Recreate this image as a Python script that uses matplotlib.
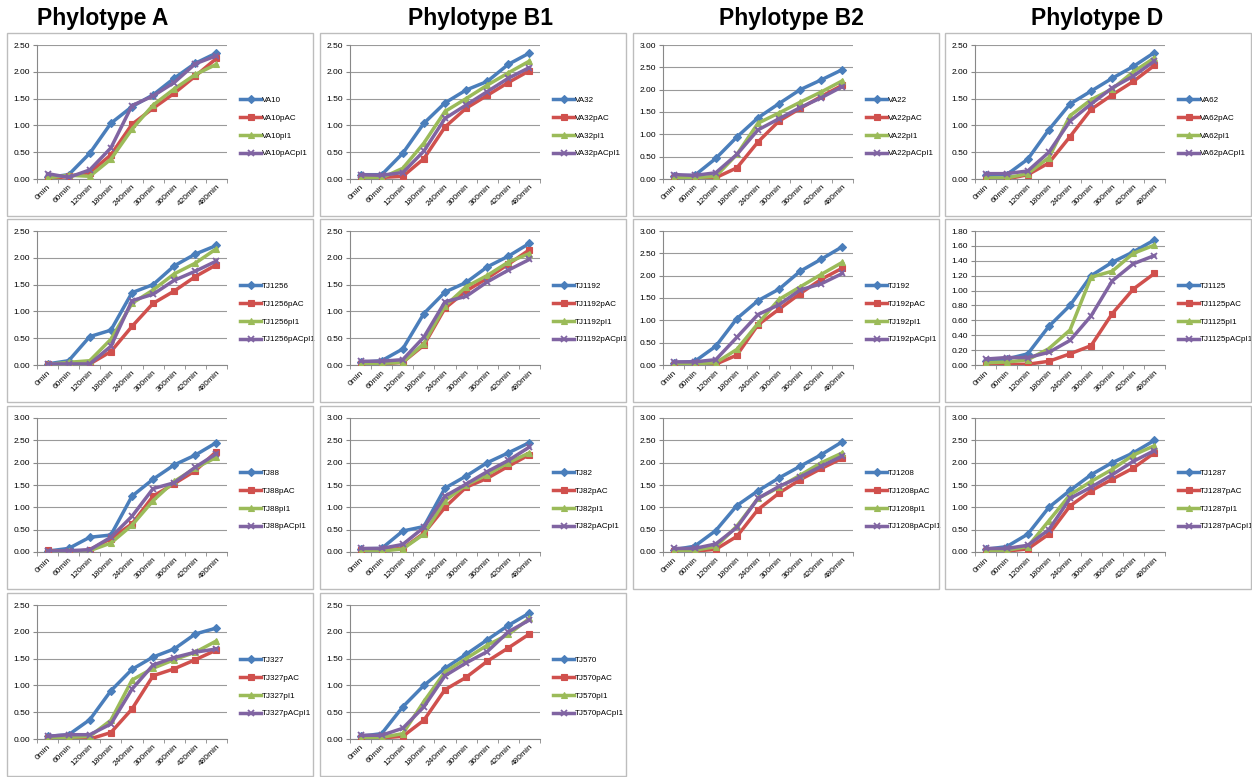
import matplotlib
matplotlib.use("Agg")
import matplotlib.pyplot as plt
from matplotlib.patches import Rectangle

plt.rcParams['font.family'] = ['Liberation Sans', 'DejaVu Sans']

times = ['0min', '60min', '120min', '180min', '240min', '300min', '360min', '420min', '480min']
phylotypes = ['Phylotype A', 'Phylotype B1', 'Phylotype B2', 'Phylotype D']

# --- Phylotype A ---
va10 = [0.03, 0.08, 0.48, 1.04, 1.35, 1.57, 1.88, 2.16, 2.35]
va10_pac = [0.00, 0.05, 0.12, 0.45, 1.02, 1.32, 1.60, 1.92, 2.25]
va10_pi1 = [0.02, 0.07, 0.05, 0.37, 0.93, 1.38, 1.68, 1.95, 2.14]
va10_pacpi1 = [0.10, 0.03, 0.17, 0.58, 1.37, 1.55, 1.80, 2.15, 2.30]

tj1256 = [0.02, 0.08, 0.53, 0.65, 1.35, 1.50, 1.85, 2.07, 2.23]
tj1256_pac = [0.01, 0.00, 0.02, 0.25, 0.72, 1.15, 1.38, 1.65, 1.87]
tj1256_pi1 = [0.01, 0.05, 0.08, 0.48, 1.15, 1.40, 1.70, 1.90, 2.17]
tj1256_pacpi1 = [0.02, 0.02, 0.02, 0.35, 1.20, 1.32, 1.58, 1.75, 1.94]

tj88 = [0.02, 0.08, 0.33, 0.38, 1.25, 1.63, 1.95, 2.17, 2.45]
tj88_pac = [0.04, 0.00, 0.05, 0.30, 0.63, 1.25, 1.53, 1.82, 2.25]
tj88_pi1 = [0.01, 0.02, 0.03, 0.20, 0.60, 1.15, 1.58, 1.88, 2.12]
tj88_pacpi1 = [0.02, 0.03, 0.05, 0.33, 0.80, 1.42, 1.55, 1.90, 2.20]

tj327 = [0.05, 0.08, 0.36, 0.90, 1.30, 1.53, 1.68, 1.96, 2.07]
tj327_pac = [0.01, 0.00, 0.00, 0.12, 0.56, 1.18, 1.31, 1.48, 1.66]
tj327_pi1 = [0.03, 0.03, 0.05, 0.35, 1.10, 1.32, 1.48, 1.62, 1.83]
tj327_pacpi1 = [0.05, 0.08, 0.08, 0.28, 0.93, 1.38, 1.52, 1.62, 1.68]

# --- Phylotype B1 ---
va32 = [0.08, 0.08, 0.48, 1.04, 1.42, 1.66, 1.82, 2.14, 2.35]
va32_pac = [0.02, 0.03, 0.05, 0.38, 0.97, 1.32, 1.56, 1.80, 2.02]
va32_pi1 = [0.02, 0.02, 0.20, 0.67, 1.26, 1.50, 1.75, 1.98, 2.20]
va32_pacpi1 = [0.08, 0.07, 0.12, 0.52, 1.13, 1.38, 1.63, 1.88, 2.08]

tj1192 = [0.05, 0.08, 0.30, 0.96, 1.36, 1.54, 1.83, 2.03, 2.27]
tj1192_pac = [0.02, 0.02, 0.05, 0.37, 1.06, 1.38, 1.62, 1.88, 2.15]
tj1192_pi1 = [0.02, 0.03, 0.05, 0.40, 1.10, 1.46, 1.67, 1.92, 2.08]
tj1192_pacpi1 = [0.07, 0.07, 0.10, 0.52, 1.18, 1.28, 1.55, 1.77, 1.97]

tj82 = [0.07, 0.08, 0.47, 0.57, 1.43, 1.70, 2.00, 2.22, 2.45]
tj82_pac = [0.05, 0.05, 0.08, 0.42, 1.00, 1.45, 1.65, 1.92, 2.18]
tj82_pi1 = [0.01, 0.02, 0.07, 0.40, 1.15, 1.50, 1.73, 2.00, 2.22]
tj82_pacpi1 = [0.08, 0.08, 0.17, 0.55, 1.25, 1.52, 1.80, 2.05, 2.35]

tj570 = [0.05, 0.10, 0.60, 1.00, 1.32, 1.58, 1.85, 2.12, 2.35]
tj570_pac = [0.01, 0.02, 0.05, 0.35, 0.92, 1.15, 1.45, 1.70, 1.96]
tj570_pi1 = [0.00, 0.03, 0.10, 0.70, 1.25, 1.50, 1.75, 1.95, 2.25]
tj570_pacpi1 = [0.07, 0.07, 0.20, 0.60, 1.18, 1.42, 1.63, 2.00, 2.22]

# --- Phylotype B2 ---
va22 = [0.07, 0.08, 0.46, 0.94, 1.37, 1.69, 2.00, 2.22, 2.45]
va22_pac = [0.02, 0.02, 0.03, 0.25, 0.83, 1.30, 1.58, 1.85, 2.10]
va22_pi1 = [0.03, 0.03, 0.06, 0.55, 1.25, 1.48, 1.72, 1.95, 2.20]
va22_pacpi1 = [0.10, 0.08, 0.14, 0.55, 1.10, 1.35, 1.60, 1.82, 2.07]

tj192 = [0.05, 0.08, 0.42, 1.04, 1.44, 1.70, 2.10, 2.37, 2.65]
tj192_pac = [0.01, 0.01, 0.02, 0.22, 0.90, 1.25, 1.60, 1.92, 2.17]
tj192_pi1 = [0.02, 0.03, 0.05, 0.35, 0.93, 1.47, 1.75, 2.03, 2.30]
tj192_pacpi1 = [0.07, 0.07, 0.12, 0.62, 1.13, 1.35, 1.68, 1.82, 2.05]

tj1208 = [0.05, 0.13, 0.48, 1.04, 1.37, 1.66, 1.92, 2.18, 2.47]
tj1208_pac = [0.02, 0.02, 0.06, 0.35, 0.95, 1.32, 1.62, 1.87, 2.10]
tj1208_pi1 = [0.03, 0.04, 0.12, 0.58, 1.20, 1.45, 1.72, 2.00, 2.22]
tj1208_pacpi1 = [0.08, 0.08, 0.18, 0.55, 1.20, 1.47, 1.68, 1.92, 2.15]

# --- Phylotype D ---
va62 = [0.07, 0.08, 0.37, 0.92, 1.40, 1.64, 1.88, 2.10, 2.36]
va62_pac = [0.00, 0.00, 0.08, 0.30, 0.79, 1.30, 1.57, 1.82, 2.12]
va62_pi1 = [0.02, 0.02, 0.10, 0.40, 1.18, 1.48, 1.68, 2.00, 2.26]
va62_pacpi1 = [0.10, 0.10, 0.15, 0.50, 1.08, 1.40, 1.70, 1.92, 2.20]

tj1125 = [0.05, 0.08, 0.15, 0.52, 0.80, 1.20, 1.38, 1.52, 1.68]
tj1125_pac = [0.01, 0.01, 0.01, 0.05, 0.15, 0.26, 0.69, 1.02, 1.23]
tj1125_pi1 = [0.03, 0.04, 0.07, 0.22, 0.47, 1.18, 1.26, 1.50, 1.61]
tj1125_pacpi1 = [0.08, 0.10, 0.10, 0.17, 0.33, 0.66, 1.13, 1.36, 1.47]

tj1287 = [0.06, 0.12, 0.40, 1.00, 1.38, 1.73, 2.00, 2.22, 2.50]
tj1287_pac = [0.02, 0.02, 0.07, 0.40, 1.03, 1.37, 1.63, 1.88, 2.22]
tj1287_pi1 = [0.02, 0.04, 0.12, 0.70, 1.28, 1.58, 1.85, 2.17, 2.38]
tj1287_pacpi1 = [0.08, 0.08, 0.15, 0.50, 1.20, 1.45, 1.73, 2.03, 2.27]

# (column, row, strain, series, ymax, ystep)
panels = [
    (0, 0, 'VA10', [va10, va10_pac, va10_pi1, va10_pacpi1], 2.5, 0.5),
    (0, 1, 'TJ1256', [tj1256, tj1256_pac, tj1256_pi1, tj1256_pacpi1], 2.5, 0.5),
    (0, 2, 'TJ88', [tj88, tj88_pac, tj88_pi1, tj88_pacpi1], 3.0, 0.5),
    (0, 3, 'TJ327', [tj327, tj327_pac, tj327_pi1, tj327_pacpi1], 2.5, 0.5),
    (1, 0, 'VA32', [va32, va32_pac, va32_pi1, va32_pacpi1], 2.5, 0.5),
    (1, 1, 'TJ1192', [tj1192, tj1192_pac, tj1192_pi1, tj1192_pacpi1], 2.5, 0.5),
    (1, 2, 'TJ82', [tj82, tj82_pac, tj82_pi1, tj82_pacpi1], 3.0, 0.5),
    (1, 3, 'TJ570', [tj570, tj570_pac, tj570_pi1, tj570_pacpi1], 2.5, 0.5),
    (2, 0, 'VA22', [va22, va22_pac, va22_pi1, va22_pacpi1], 3.0, 0.5),
    (2, 1, 'TJ192', [tj192, tj192_pac, tj192_pi1, tj192_pacpi1], 3.0, 0.5),
    (2, 2, 'TJ1208', [tj1208, tj1208_pac, tj1208_pi1, tj1208_pacpi1], 3.0, 0.5),
    (3, 0, 'VA62', [va62, va62_pac, va62_pi1, va62_pacpi1], 2.5, 0.5),
    (3, 1, 'TJ1125', [tj1125, tj1125_pac, tj1125_pi1, tj1125_pacpi1], 1.8, 0.2),
    (3, 2, 'TJ1287', [tj1287, tj1287_pac, tj1287_pi1, tj1287_pacpi1], 3.0, 0.5),
]

suffixes = ['', 'pAC', 'pI1', 'pACpI1']
colors = ['#4A7EBB', '#D0504D', '#9BBB59', '#8064A2']
markers = ['D', 's', '^', 'x']
msizes = [4, 5, 5, 5]

W, H = 1252, 777
fig = plt.figure(figsize=(W / 100, H / 100), dpi=100)
fig.patch.set_facecolor('white')

col_left = [7, 320, 633, 945]
row_top = [33, 219, 406, 593]
panel_w, panel_h = 306, 183
title_x = [103, 480, 791, 1097]

for i, name in enumerate(phylotypes):
    fig.text(title_x[i] / W, 1 - 18 / H, name, ha='center', va='center',
             fontsize=16.5, fontweight='bold')

for col, row, strain, series, ymax, ystep in panels:
    pl, pt = col_left[col], row_top[row]
    fig.patches.append(Rectangle((pl / W, 1 - (pt + panel_h) / H), panel_w / W, panel_h / H,
                                 transform=fig.transFigure, fill=False,
                                 edgecolor='#BDBDBD', linewidth=1))
    ax = fig.add_axes([(pl + 30) / W, 1 - (pt + 146) / H, 190 / W, 134 / H])
    x = list(range(len(times)))
    for k, vals in enumerate(series):
        mk = markers[k]
        ax.plot(x, vals, color=colors[k], linewidth=2.5, marker=mk, markersize=msizes[k],
                markeredgewidth=1.3 if mk == 'x' else 0.8,
                markerfacecolor=colors[k], markeredgecolor=colors[k],
                label=strain + suffixes[k], zorder=3 + k)
    n = int(round(ymax / ystep))
    yt = [ystep * j for j in range(n + 1)]
    ax.set_ylim(0, ymax)
    ax.set_yticks(yt)
    ax.set_yticklabels(['%.2f' % v for v in yt])
    ax.set_xlim(-0.5, len(times) - 0.5)
    ax.set_xticks(x)
    ax.set_xticklabels(times, rotation=45, ha='right', rotation_mode='anchor')
    ax.set_xticks([j - 0.5 for j in range(len(times) + 1)], minor=True)
    ax.tick_params(axis='x', which='major', length=0, labelsize=6, pad=3)
    ax.tick_params(axis='x', which='minor', length=3, color='#888888')
    ax.tick_params(axis='y', length=3, labelsize=6, color='#888888', pad=2)
    ax.grid(axis='y', color='#9A9A9A', linewidth=0.8)
    ax.set_axisbelow(True)
    for s in ['top', 'right']:
        ax.spines[s].set_visible(False)
    for s in ['left', 'bottom']:
        ax.spines[s].set_color('#888888')
        ax.spines[s].set_linewidth(0.8)
    ax.legend(loc='center left', bbox_to_anchor=((pl + 229) / W, 1 - (pt + 94) / H),
              bbox_transform=fig.transFigure, frameon=False, fontsize=5.8,
              handlelength=2.6, handletextpad=0.1, labelspacing=1.25, borderpad=0,
              markerscale=1.0)

fig.savefig('out.png', dpi=100, facecolor='white')
